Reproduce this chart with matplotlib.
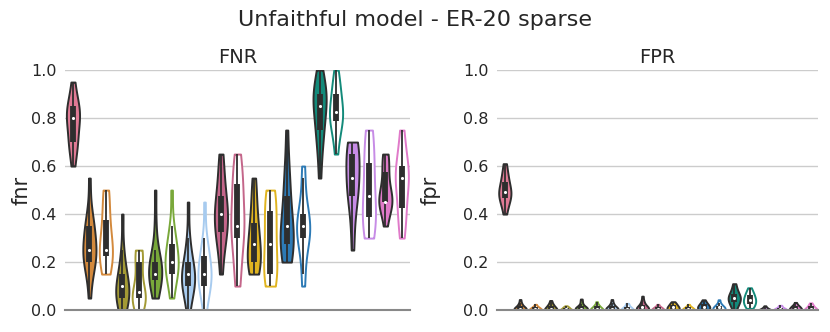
import numpy as np
import matplotlib
matplotlib.use("Agg")
import matplotlib.pyplot as plt

# one colour per method; the first method has a single violin, the rest come in pairs
method_colors = ["#e07a95", "#d3893c", "#a39a35", "#79a83a", "#a7cbef", "#c4668a",
                 "#e0b420", "#2d7ab5", "#138a7a", "#c78ce6", "#e07ac9"]

fnr_values = [
    [0.6, 0.65, 0.7, 0.7, 0.7, 0.75, 0.8, 0.8, 0.8, 0.8, 0.85, 0.85, 0.85, 0.9, 0.95],
    [0.05, 0.15, 0.2, 0.2, 0.2, 0.25, 0.25, 0.25, 0.25, 0.3, 0.35, 0.35, 0.35, 0.4, 0.55],
    [0.15, 0.15, 0.2, 0.2, 0.25, 0.25, 0.25, 0.25, 0.3, 0.35, 0.35, 0.4, 0.45, 0.5, 0.5],
    [0, 0, 0.05, 0.05, 0.05, 0.05, 0.1, 0.1, 0.1, 0.1, 0.15, 0.15, 0.2, 0.25, 0.4],
    [0, 0, 0.05, 0.05, 0.05, 0.05, 0.05, 0.05, 0.1, 0.1, 0.15, 0.2, 0.2, 0.25, 0.25, 0.25],
    [0.05, 0.1, 0.1, 0.1, 0.15, 0.15, 0.15, 0.15, 0.2, 0.2, 0.2, 0.2, 0.25, 0.35, 0.5],
    [0.05, 0.1, 0.15, 0.15, 0.15, 0.2, 0.2, 0.2, 0.2, 0.25, 0.25, 0.3, 0.3, 0.35, 0.5],
    [0, 0.05, 0.1, 0.1, 0.1, 0.1, 0.15, 0.15, 0.15, 0.15, 0.2, 0.2, 0.25, 0.3, 0.45],
    [0, 0.05, 0.1, 0.1, 0.1, 0.15, 0.15, 0.15, 0.15, 0.2, 0.2, 0.25, 0.25, 0.3, 0.45],
    [0.15, 0.25, 0.3, 0.3, 0.35, 0.35, 0.4, 0.4, 0.4, 0.45, 0.45, 0.5, 0.55, 0.6, 0.65],
    [0.1, 0.15, 0.2, 0.3, 0.3, 0.35, 0.35, 0.35, 0.4, 0.45, 0.5, 0.55, 0.55, 0.6, 0.65],
    [0.15, 0.15, 0.2, 0.2, 0.2, 0.2, 0.25, 0.25, 0.3, 0.3, 0.35, 0.35, 0.4, 0.45, 0.5, 0.55],
    [0.1, 0.1, 0.15, 0.15, 0.15, 0.2, 0.25, 0.25, 0.3, 0.35, 0.35, 0.4, 0.45, 0.45, 0.5, 0.5],
    [0.2, 0.2, 0.25, 0.25, 0.3, 0.3, 0.3, 0.35, 0.35, 0.4, 0.45, 0.5, 0.55, 0.6, 0.75],
    [0.1, 0.15, 0.25, 0.3, 0.3, 0.3, 0.35, 0.35, 0.35, 0.35, 0.4, 0.4, 0.45, 0.55, 0.6],
    [0.55, 0.65, 0.7, 0.75, 0.75, 0.8, 0.85, 0.85, 0.85, 0.9, 0.9, 0.9, 0.95, 0.95, 1.0],
    [0.65, 0.7, 0.75, 0.75, 0.8, 0.8, 0.8, 0.8, 0.85, 0.85, 0.85, 0.9, 0.9, 0.95, 0.95, 1.0],
    [0.25, 0.35, 0.45, 0.45, 0.5, 0.5, 0.55, 0.55, 0.6, 0.6, 0.65, 0.65, 0.7, 0.7, 0.7],
    [0.3, 0.3, 0.35, 0.35, 0.4, 0.4, 0.45, 0.45, 0.5, 0.55, 0.6, 0.6, 0.65, 0.7, 0.75, 0.75],
    [0.35, 0.4, 0.45, 0.45, 0.45, 0.45, 0.45, 0.45, 0.5, 0.5, 0.55, 0.6, 0.6, 0.65, 0.65],
    [0.3, 0.35, 0.4, 0.4, 0.45, 0.5, 0.55, 0.55, 0.55, 0.55, 0.6, 0.6, 0.65, 0.7, 0.75],
]

fpr_values = [
    [0.40, 0.43, 0.45, 0.46, 0.47, 0.48, 0.49, 0.49, 0.50, 0.51, 0.53, 0.54, 0.56, 0.58, 0.61],
    [0, 0, 0, 0, 0, 0.006, 0.006, 0.006, 0.012, 0.012, 0.012, 0.018, 0.024, 0.03, 0.044],
    [0, 0, 0, 0, 0, 0, 0.006, 0.006, 0.006, 0.006, 0.012, 0.012, 0.012, 0.018, 0.024],
    [0, 0, 0, 0, 0, 0.006, 0.006, 0.006, 0.012, 0.012, 0.018, 0.018, 0.024, 0.03, 0.04],
    [0, 0, 0, 0, 0, 0, 0, 0.006, 0.006, 0.006, 0.006, 0.012, 0.012, 0.012, 0.018],
    [0, 0, 0, 0, 0.006, 0.006, 0.006, 0.006, 0.012, 0.012, 0.012, 0.018, 0.024, 0.035, 0.046],
    [0, 0, 0, 0, 0, 0.006, 0.006, 0.006, 0.006, 0.012, 0.012, 0.018, 0.018, 0.024, 0.035],
    [0, 0, 0, 0, 0, 0.006, 0.006, 0.006, 0.012, 0.012, 0.012, 0.018, 0.024, 0.03, 0.044],
    [0, 0, 0, 0, 0, 0, 0.006, 0.006, 0.006, 0.012, 0.012, 0.012, 0.018, 0.024, 0.028],
    [0, 0, 0, 0, 0.006, 0.006, 0.006, 0.012, 0.012, 0.012, 0.018, 0.024, 0.03, 0.04, 0.058],
    [0, 0, 0, 0, 0, 0, 0.006, 0.006, 0.006, 0.006, 0.012, 0.012, 0.012, 0.018, 0.024],
    [0, 0, 0, 0.006, 0.006, 0.006, 0.012, 0.012, 0.012, 0.018, 0.018, 0.024, 0.024, 0.03, 0.035],
    [0, 0, 0, 0, 0, 0, 0.006, 0.006, 0.006, 0.006, 0.012, 0.012, 0.012, 0.018, 0.024],
    [0, 0, 0, 0.006, 0.006, 0.012, 0.012, 0.012, 0.018, 0.018, 0.024, 0.024, 0.03, 0.035, 0.043],
    [0, 0, 0, 0, 0.006, 0.006, 0.006, 0.012, 0.012, 0.012, 0.018, 0.018, 0.024, 0.03, 0.043],
    [0.0, 0.012, 0.024, 0.03, 0.035, 0.04, 0.047, 0.05, 0.053, 0.06, 0.065, 0.07, 0.08, 0.095, 0.11],
    [0.007, 0.012, 0.018, 0.024, 0.03, 0.035, 0.04, 0.04, 0.047, 0.053, 0.06, 0.065, 0.07, 0.08, 0.093],
    [0, 0, 0, 0, 0, 0, 0, 0, 0.006, 0.006, 0.006, 0.006, 0.012, 0.012, 0.018],
    [0, 0, 0, 0, 0, 0, 0.006, 0.006, 0.006, 0.006, 0.006, 0.012, 0.012, 0.018, 0.02],
    [0, 0, 0, 0, 0, 0.006, 0.006, 0.006, 0.012, 0.012, 0.012, 0.018, 0.018, 0.024, 0.032],
    [0, 0, 0, 0, 0, 0.006, 0.006, 0.006, 0.006, 0.012, 0.012, 0.018, 0.018, 0.024, 0.03],
]

y_ticks = [0.0, 0.2, 0.4, 0.6, 0.8, 1.0]
panel_titles = ["FNR", "FPR"]
panel_ylabels = ["fnr", "fpr"]

violin_colors = [method_colors[0]] + [c for c in method_colors[1:] for _ in range(2)]
violin_filled = [True] + [True, False] * 10
dark = "#2e2e2e"


def draw_violin(ax, pos, vals, color, fill):
    vals = np.asarray(vals, dtype=float)
    n = len(vals)
    bw = vals.std(ddof=1) * n ** (-1 / 5)  # scott
    grid = np.linspace(vals.min(), vals.max(), 200)
    dens = np.exp(-0.5 * ((grid[:, None] - vals[None, :]) / bw) ** 2).sum(axis=1)
    half = 0.4 * dens / dens.max()
    face = color if fill else "white"
    edge = dark if fill else color
    ax.fill_betweenx(grid, pos - half, pos + half, facecolor=face,
                     edgecolor=edge, lw=1.4, zorder=2)
    # inner box
    q1, med, q3 = np.percentile(vals, [25, 50, 75])
    iqr = q3 - q1
    lo = vals[vals >= q1 - 1.5 * iqr].min()
    hi = vals[vals <= q3 + 1.5 * iqr].max()
    ax.plot([pos, pos], [lo, hi], color=dark, lw=1.3, zorder=3, solid_capstyle="butt")
    ax.plot([pos, pos], [q1, q3], color=dark, lw=4.2, zorder=3, solid_capstyle="butt")
    ax.scatter([pos], [med], s=5, color="white", zorder=4, linewidths=0)


fig = plt.figure(figsize=(8.3, 3.32), dpi=100)
axes = [fig.add_axes([0.078, 0.066, 0.416, 0.723]),
        fig.add_axes([0.599, 0.066, 0.387, 0.723])]
label_x = [-0.095, -0.175]

for k, (ax, data) in enumerate(zip(axes, [fnr_values, fpr_values])):
    for i, vals in enumerate(data):
        draw_violin(ax, i, vals, violin_colors[i], violin_filled[i])
    ax.set_xlim(-0.5, len(data) - 0.5)
    ax.set_ylim(0, 1.0)
    ax.set_xticks([])
    ax.set_yticks(y_ticks)
    ax.set_yticklabels([f"{t:.1f}" for t in y_ticks], fontsize=11.5, color="#262626")
    ax.tick_params(axis="y", length=0, pad=6)
    ax.yaxis.grid(True, color="#cccccc", lw=1)
    ax.set_axisbelow(True)
    for s in ["left", "right", "top"]:
        ax.spines[s].set_visible(False)
    ax.spines["bottom"].set_color("#888888")
    ax.spines["bottom"].set_linewidth(1.5)
    ax.spines["bottom"].set_zorder(5)
    ax.set_title(panel_titles[k], fontsize=14, color="#262626", pad=5)
    ax.set_ylabel(panel_ylabels[k], fontsize=15, color="#262626")
    ax.yaxis.set_label_coords(label_x[k], 0.5)

fig.suptitle("Unfaithful model - ER-20 sparse", fontsize=16, color="#262626", y=0.97)

fig.savefig("out.png", dpi=100)
